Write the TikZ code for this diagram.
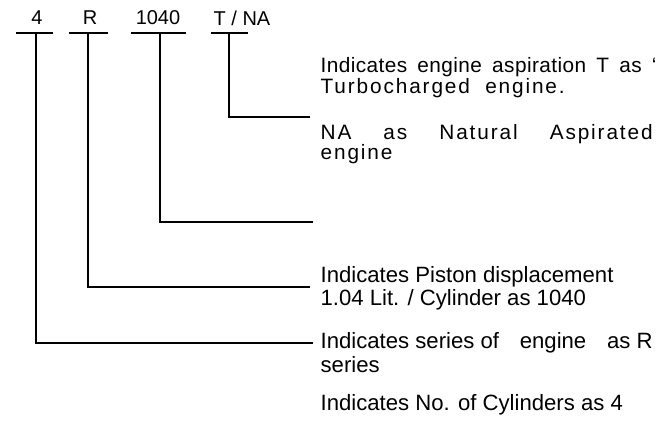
\documentclass[tikz,border=0pt]{standalone}
\usepackage{fontspec}
\setmainfont{Liberation Sans}
\tikzset{every picture/.style={line width=1.5pt}}
\tikzset{
code/.style={inner sep=0.75pt, font=\fontsize{15}{18}\selectfont},
desc/.style={anchor=west, inner xsep=5pt, inner ysep=0pt, font=\fontsize{16.6}{18}\selectfont},
spaced/.style={desc, font=\fontsize{15.6}{18}\selectfont\addfontfeatures{LetterSpace=9}}}

\begin{document}
\begin{tikzpicture}[x=0.75pt,y=0.75pt,yscale=-1,xscale=1]
\useasboundingbox (0,0) rectangle (661,422);

% Code letters
\draw (37,18) node [code] (c4) {4};
\draw (90,18) node [code] (cR) {R};
\draw (158,18) node [code] (c1040) {1040};
\draw (242,18) node [code] (cT) {T / NA};

%Straight Lines: bars under the code letters
\draw (16,33) -- (53,33) ;
\draw (69,33) -- (108,33) ;
\draw (131,33) -- (186,33) ;
\draw (211,33) -- (248,33) ;
\coordinate (b4) at (36,33) ;
\coordinate (bR) at (88,33) ;
\coordinate (b1040) at (160,33) ;
\coordinate (bT) at (229,33) ;

% Text Node: aspiration
\draw (313,67) node [desc, font=\fontsize{15.6}{18}\selectfont\addfontfeatures{LetterSpace=2}] (asp1) {\makebox[252pt][s]{Indicates engine aspiration T as ‘}};
\draw (313,88) node [spaced] (asp2) {Turbocharged\ \ engine.};
\draw (313,134) node [spaced] (asp3) {\makebox[249pt][s]{NA as Natural Aspirated}};
\draw (313,154) node [spaced] (asp4) {engine};
% Text Node: displacement
\draw (313,277) node [desc] (pis1) {Indicates Piston displacement};
\draw (313,300) node [desc] (pis2) {1.04 Lit. / Cylinder as 1040};
% Text Node: series
\draw (313,343) node [desc] (ser1) {Indicates series of\hspace{11pt} engine\hspace{11pt} as R};
\draw (313,365) node [desc] (ser2) {series};
% Text Node: cylinders
\draw (313,405) node [desc] (cyl) {Indicates No. of Cylinders as 4};

\coordinate (eT) at (310,117) ;
\coordinate (e1040) at (313,222) ;
\coordinate (eR) at (310,287) ;

%Connectors
\draw (bT) |- (eT) ;
\draw (b1040) |- (e1040) ;
\draw (bR) |- (eR) ;
\draw (b4) |- (ser1.west) ;

\end{tikzpicture}
\end{document}
